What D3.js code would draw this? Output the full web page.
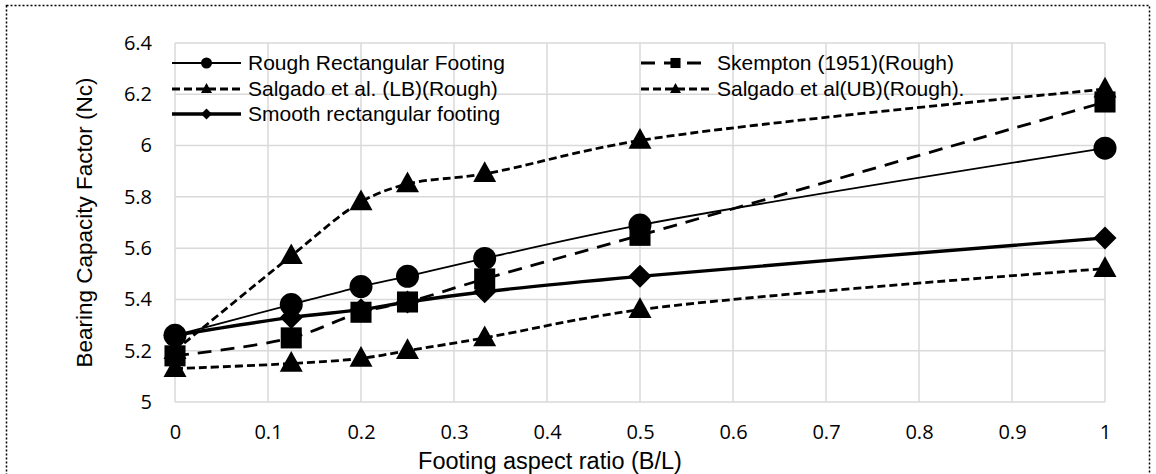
<!DOCTYPE html>
<html>
<head>
<meta charset="utf-8">
<script src="https://cdn.jsdelivr.net/npm/d3@7"></script>
<style>
  body { margin: 0; background: #fff; }
  svg { display: block; }
</style>
</head>
<body>
<div id="chart"></div>
<script>
// data
var ratios = [0, 0.125, 0.2, 0.25, 0.333, 0.5, 1];
var roughRect = [5.26, 5.38, 5.45, 5.49, 5.56, 5.69, 5.99];
var skempton = [5.18, 5.25, 5.35, 5.39, 5.48, 5.65, 6.17];
var salgadoLB = [5.13, 5.15, 5.17, 5.20, 5.25, 5.36, 5.52];
var salgadoUB = [5.20, 5.57, 5.78, 5.85, 5.89, 6.02, 6.22];
var smoothRect = [5.26, 5.33, 5.36, 5.39, 5.43, 5.49, 5.64];
var xTicks = [0, 0.1, 0.2, 0.3, 0.4, 0.5, 0.6, 0.7, 0.8, 0.9, 1];
var yTicks = [5, 5.2, 5.4, 5.6, 5.8, 6, 6.2, 6.4];

var series = [
    {name: 'Rough Rectangular Footing', values: roughRect, symbol: 'circle', width: 1.8, dash: null, col: 0, row: 0},
    {name: 'Skempton (1951)(Rough)', values: skempton, symbol: 'square', width: 2.8, dash: '14,9', col: 1, row: 0},
    {name: 'Salgado et al. (LB)(Rough)', values: salgadoLB, symbol: 'triangle', width: 2.8, dash: '8,4', col: 0, row: 1},
    {name: 'Salgado et al(UB)(Rough).', values: salgadoUB, symbol: 'triangle', width: 2.8, dash: '8,4', col: 1, row: 1},
    {name: 'Smooth rectangular footing', values: smoothRect, symbol: 'diamond', width: 3.4, dash: null, col: 0, row: 2}
];

var W = 1156, H = 474;
var margin = {top: 43, left: 175, right: 51, bottom: 72};
var width = W - margin.left - margin.right;
var height = H - margin.top - margin.bottom;

var svg = d3.select('#chart').append('svg')
    .attr('width', W)
    .attr('height', H);

// dotted frame
svg.append('rect')
    .attr('x', 6.5).attr('y', 5.5)
    .attr('width', W - 13).attr('height', H)
    .attr('fill', 'none')
    .attr('stroke', '#000')
    .attr('stroke-width', 1.5)
    .attr('stroke-dasharray', '2,2');

var xScale = d3.scaleLinear().domain([0, 1]).range([0, width]);
var yScale = d3.scaleLinear().domain([5, 6.4]).range([height, 0]);

var g = svg.append('g')
    .attr('transform', 'translate(' + margin.left + ',' + margin.top + ')');

// grid
g.append('g')
    .selectAll('line')
    .data(xTicks)
    .enter().append('line')
    .attr('x1', function (d) { return xScale(d); })
    .attr('x2', function (d) { return xScale(d); })
    .attr('y1', 0).attr('y2', height)
    .attr('stroke', '#d9d9d9').attr('stroke-width', 1.5);
g.append('g')
    .selectAll('line')
    .data(yTicks)
    .enter().append('line')
    .attr('x1', 0).attr('x2', width)
    .attr('y1', function (d) { return yScale(d); })
    .attr('y2', function (d) { return yScale(d); })
    .attr('stroke', '#d9d9d9').attr('stroke-width', 1.5);

// axes (labels only)
var xAxis = d3.axisBottom(xScale).tickValues(xTicks).tickSize(0).tickPadding(23)
    .tickFormat(function (d) { return +d.toFixed(1); });
var yAxis = d3.axisLeft(yScale).tickValues(yTicks).tickSize(0).tickPadding(23)
    .tickFormat(function (d) { return +d.toFixed(1); });

var xAx = g.append('g').attr('transform', 'translate(0,' + height + ')').call(xAxis);
var yAx = g.append('g').call(yAxis);
[xAx, yAx].forEach(function (a) {
    a.select('.domain').remove();
    a.selectAll('text')
        .attr('font-family', '"Open Sans", sans-serif')
        .attr('font-size', 20)
        .attr('fill', '#000');
});

// axis titles
svg.append('text')
    .attr('x', 550)
    .attr('y', 469)
    .attr('text-anchor', 'middle')
    .attr('font-family', '"Liberation Sans", Arial, sans-serif')
    .attr('font-size', 23.5)
    .text('Footing aspect ratio (B/L)');
svg.append('text')
    .attr('transform', 'translate(92,' + (margin.top + height / 2) + ') rotate(-90)')
    .attr('text-anchor', 'middle')
    .attr('font-family', '"Liberation Sans", Arial, sans-serif')
    .attr('font-size', 22.5)
    .text('Bearing Capacity Factor (Nc)');

// marker shapes, size = overall width in px
function symbolPath(type, size) {
    var r = size / 2;
    if (type === 'circle') return d3.symbol(d3.symbolCircle, Math.PI * r * r)();
    if (type === 'square') return d3.symbol(d3.symbolSquare, size * size * 0.84)();
    if (type === 'triangle') {
        var h = size * 0.9;
        return 'M0,' + (-h * 0.6) + 'L' + r + ',' + (h * 0.4) + 'L' + (-r) + ',' + (h * 0.4) + 'Z';
    }
    if (type === 'diamond') {
        return 'M0,' + (-r) + 'L' + r + ',0L0,' + r + 'L' + (-r) + ',0Z';
    }
}

var line = d3.line()
    .x(function (d) { return xScale(d[0]); })
    .y(function (d) { return yScale(d[1]); })
    .curve(d3.curveCatmullRom.alpha(0.5));

var order = [1, 2, 3, 0, 4];
order.forEach(function (i) {
    var s = series[i];
    var pts = ratios.map(function (r, j) { return [r, s.values[j]]; });
    g.append('path')
        .datum(pts)
        .attr('d', line)
        .attr('fill', 'none')
        .attr('stroke', '#000')
        .attr('stroke-width', s.width)
        .attr('stroke-dasharray', s.dash);
    g.append('g')
        .selectAll('path')
        .data(pts)
        .enter().append('path')
        .attr('transform', function (d) { return 'translate(' + xScale(d[0]) + ',' + yScale(d[1]) + ')'; })
        .attr('d', symbolPath(s.symbol, 23))
        .attr('fill', '#000');
});

// legend
var legCols = [172, 641];
var legRows = [63, 89, 114];
var legend = svg.append('g');
series.forEach(function (s) {
    var x0 = legCols[s.col], y0 = legRows[s.row];
    var item = legend.append('g').attr('transform', 'translate(' + x0 + ',' + y0 + ')');
    item.append('line')
        .attr('x1', 0).attr('x2', 69)
        .attr('y1', 0).attr('y2', 0)
        .attr('stroke', '#000')
        .attr('stroke-width', s.width)
        .attr('stroke-dasharray', s.dash);
    item.append('path')
        .attr('transform', 'translate(34.5,0)')
        .attr('d', symbolPath(s.symbol, 11))
        .attr('fill', '#000');
    item.append('text')
        .attr('x', 76)
        .attr('y', 7)
        .attr('font-family', '"Liberation Sans", Arial, sans-serif')
        .attr('font-size', 21)
        .text(s.name);
});
</script>
</body>
</html>
